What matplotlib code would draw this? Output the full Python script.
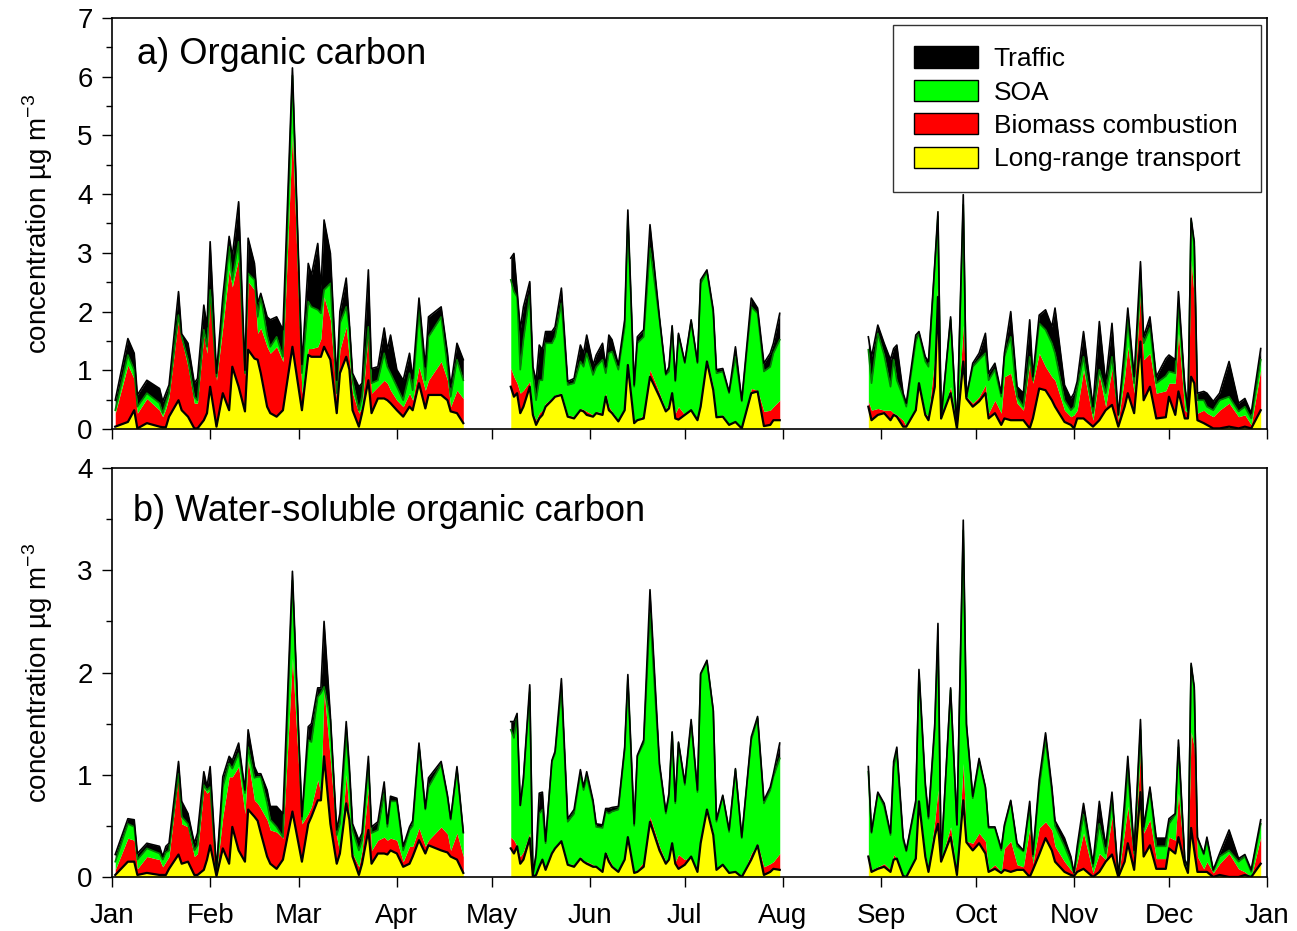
import numpy as np
import matplotlib
matplotlib.use('Agg')
import matplotlib.pyplot as plt
from matplotlib.patches import Patch
from matplotlib.ticker import MultipleLocator

plt.rcParams['font.family'] = ['Liberation Sans', 'DejaVu Sans']

# day of year of each sample (three sampling periods)
days = [1, 5, 7, 8, 11, 15, 16, 17, 18, 21, 22, 24, 26, 27, 29, 30, 31, 33, 35, 37, 38, 40, 42, 43, 45, 46, 47,
        49, 50, 52, 54, 57, 60, 62, 63, 65, 66, 67, 69, 71, 72, 74, 75, 76, 78, 79, 81, 82, 84, 86, 87, 88, 90,
        92, 94, 95, 97, 99, 100, 104, 106, 107, 109, 111,
        126, 127, 128, 129, 130, 132, 133, 134, 135, 136, 137, 139, 140, 142, 144, 146, 148, 149, 150, 152, 153,
        155, 156, 157, 158, 160, 162, 163, 165, 166, 168, 170, 173, 175, 176, 177, 178, 179, 181, 183, 185, 186,
        188, 190, 191, 193, 195, 197, 199, 202, 204, 206, 208, 209, 211,
        239, 240, 242, 244, 246, 247, 248, 250, 251, 254, 255, 257, 258, 260, 261, 262, 265, 267, 269, 270, 272,
        274, 276, 277, 279, 281, 282, 284, 286, 288, 290, 291, 293, 295, 297, 298, 301, 303, 304, 305, 307, 310,
        312, 314, 316, 318, 320, 321, 323, 325, 326, 328, 330, 333, 334, 336, 337, 339, 340, 341, 342, 343, 345,
        346, 348, 350, 353, 356, 358, 360, 363]

# a) organic carbon, stacked levels: LRT, +biomass, +SOA, +traffic (total)
oc_lrt = [.04, .12, .32, .01, .10, .04, .03, .03, .21, .49, .32, .21, .01, .01, .15, .27, .72, .04, .61, .32, 1.06,
          .72, .30, 1.35, 1.20, 1.18, .95, .38, .27, .21, .32, 1.40, .32, 1.26, 1.23, 1.23, 1.23, 1.40, 1.18, .27,
          .95, 1.23, 1.01, .32, .04, .27, .83, .27, .52, .52, .49, .44, .32, .21, .38, .32, .78, .35, .58, .58,
          .49, .30, .27, .10,
          .72, .55, .61, .27, .38, .72, .24, .07, .18, .24, .38, .49, .55, .58, .21, .18, .32, .30, .24, .21, .27,
          .24, .55, .32, .27, .13, .32, 1.09, .10, .15, .18, .89, .55, .30, .35, .61, .18, .16, .24, .32, .15, .38,
          1.15, .66, .20, .21, .07, .12, .01, .61, .64, .05, .07, .15, .15,
          .38, .15, .24, .27, .15, .24, .21, .04, .04, .32, .78, .24, .15, .72, 2.25, .18, .61, .01, 1.15, .52,
          .38, .47, .61, .18, .27, .07, .18, .15, .15, .15, .01, .18, .69, .66, .49, .38, .12, .07, .01, .18, .18,
          .04, .15, .32, .41, .04, .38, .61, .27, 1.49, .49, .72, .18, .20, .55, .24, .64, .18, .18, .89, .78,
          .15, .10, .07, .01, .01, .04, .01, .04, .01, .32]
oc_bb = [.27, 1.09, .85, .27, .52, .32, .21, .35, .55, 1.89, 1.52, 1.06, .44, .44, 1.60, 1.29, 2.31, .83, 1.74,
         2.71, 2.42, 2.91, .90, 2.51, 2.37, 1.63, 1.72, 1.40, 1.29, 1.40, 1.15, 5.05, .60, 1.37, 1.37, 1.40, 1.54,
         2.25, 1.86, .49, 1.35, 1.74, 1.18, .61, .27, .38, 1.66, .61, .72, .83, .78, .66, .49, .38, .61, .49, 1.06,
         .66, .83, 1.15, .83, .38, .66, .52,
         1.04, .89, .78, .61, .66, .81, .27, .15, .27, .32, .44, .52, .58, .61, .24, .21, .35, .33, .30, .24, .30,
         .27, .61, .38, .30, .15, .32, 1.09, .12, .15, .24, 1.01, .61, .32, .45, .61, .27, .38, .24, .32, .15, .38,
         1.18, .72, .21, .24, .07, .12, .01, .69, .66, .30, .32, .38, .49,
         .47, .32, .35, .32, .32, .27, .24, .15, .04, .35, .78, .27, .21, 1.23, 2.60, .18, .72, .01, 1.77, .55,
         .44, .55, .75, .27, .49, .27, .89, .95, .44, .32, 1.12, .78, 1.29, 1.06, .89, .83, .32, .21, .24, .32,
         1.01, .15, .92, .38, 1.03, .15, .89, 1.40, .61, 2.34, 1.18, 1.29, .61, .65, .78, .78, 1.63, .32, .27,
         2.88, 2.25, .27, .32, .27, .21, .32, .44, .21, .24, .07, 1.01]
oc_soa = [.32, 1.26, 1.00, .38, .61, .44, .27, .45, .61, 1.94, 1.57, 1.18, .55, .49, 1.69, 1.40, 2.37, .89, 1.97,
          3.11, 2.54, 3.19, .95, 2.65, 2.54, 1.91, 2.25, 1.60, 1.40, 1.57, 1.23, 6.02, .95, 2.17, 2.08, 2.03, 1.97,
          2.37, 2.48, .61, 1.80, 2.08, 1.74, .83, .32, .55, 1.74, .78, .83, 1.29, 1.06, .95, .72, .49, .95, .66,
          2.03, .83, 1.57, 1.91, 1.06, .55, 1.18, .83,
          2.54, 2.34, 2.25, 1.01, 1.52, 2.28, .95, .49, .83, .83, 1.46, 1.46, 1.57, 2.14, .75, .78, 1.15, 1.06,
          1.29, .92, 1.06, 1.18, .95, 1.29, 1.32, 1.01, 1.74, 3.62, .72, 1.46, 1.57, 3.08, 1.86, .92, .98, 1.74,
          .81, 1.60, 1.12, 1.83, 1.12, 2.48, 2.68, 1.97, .95, .98, .61, 1.23, .47, 2.08, 1.97, .98, 1.06, 1.29,
          1.52,
          1.35, .78, 1.63, 1.26, .72, 1.18, .83, .55, .38, 1.49, 1.63, 1.15, 1.06, 2.77, 3.62, .18, 1.86, .01,
          3.82, .55, 1.06, 1.18, 1.29, .83, 1.01, .55, 1.23, 1.57, .55, .38, 1.23, .83, 1.80, 1.69, 1.46, 1.29,
          .49, .32, .38, .69, 1.23, .27, 1.01, .61, 1.23, .24, 1.18, 1.86, .78, 2.54, 1.46, 1.72, .78, .90, .98,
          .95, 2.14, .69, .32, 3.56, 3.11, .49, .49, .38, .32, .49, .55, .30, .38, .18, 1.18]
oc_total = [.49, 1.54, 1.29, .58, .83, .69, .47, .61, .75, 2.34, 1.62, 1.46, .78, .86, 2.11, 1.74, 3.19, .95, 2.25,
            3.28, 2.94, 3.87, 1.00, 3.25, 2.82, 2.14, 2.31, 1.91, 1.86, 1.91, 1.69, 6.15, 1.10, 2.82, 2.62, 3.16,
            2.37, 3.56, 2.99, .83, 2.00, 2.57, 1.80, .95, .72, .78, 2.71, 1.03, 1.06, 1.72, 1.35, 1.60, 1.01, .83,
            1.29, .86, 2.23, 1.06, 1.91, 2.08, 1.29, .72, 1.46, 1.18,
            2.91, 2.99, 2.37, 1.69, 2.08, 2.51, 1.06, .81, 1.43, 1.35, 1.66, 1.66, 1.74, 2.40, .81, .86, 1.43, 1.29,
            1.60, 1.09, 1.26, 1.46, 1.06, 1.60, 1.52, 1.09, 1.86, 3.73, .75, 1.57, 1.69, 3.48, 1.90, .94, 1.06,
            1.76, .83, 1.63, 1.14, 1.86, 1.14, 2.54, 2.71, 2.03, 1.01, 1.03, .63, 1.40, .49, 2.23, 2.06, 1.12,
            1.29, 1.46, 1.97,
            1.57, 1.23, 1.77, 1.46, 1.18, 1.37, 1.43, .61, .44, 1.60, 1.66, 1.23, 1.15, 2.82, 3.70, .18, 1.91, .01,
            3.99, .55, 1.12, 1.29, 1.63, .95, 1.12, .61, 1.29, 2.00, .72, .61, 1.86, .89, 1.94, 2.03, 1.74, 2.06,
            .75, .52, .61, .81, 1.66, .38, 1.83, .78, 1.80, .24, 1.40, 2.06, .89, 2.85, 1.57, 1.91, .89, 1.20,
            1.26, 1.18, 2.34, .75, .32, 3.59, 3.19, .61, .64, .61, .47, .61, 1.15, .44, .52, .27, 1.37]

# b) water-soluble organic carbon, same stacking
wsoc_lrt = [.02, .15, .15, .02, .04, .02, .02, .02, .08, .22, .13, .15, .02, .02, .07, .17, .31, .01, .28, .13,
            .49, .26, .15, .66, .59, .55, .43, .20, .13, .08, .17, .64, .15, .52, .59, .75, .75, 1.18, .52, .13,
            .23, .72, .56, .20, .02, .13, .46, .13, .23, .23, .22, .26, .23, .10, .13, .20, .36, .23, .31, .26,
            .24, .20, .17, .04,
            .28, .23, .30, .13, .17, .38, .00, .02, .10, .17, .07, .23, .28, .35, .12, .10, .18, .15, .13, .10, .10,
            .05, .23, .15, .10, .05, .17, .39, .04, .05, .10, .54, .26, .13, .17, .33, .13, .08, .12, .20, .05, .33,
            .66, .41, .07, .12, .04, .05, .00, .17, .31, .02, .05, .08, .07,
            .20, .05, .08, .10, .05, .17, .18, .01, .00, .18, .74, .20, .05, .40, .52, .15, .39, .02, .75, .34, .26,
            .33, .23, .05, .08, .04, .07, .05, .07, .07, .00, .07, .22, .38, .26, .15, .05, .02, .01, .05, .08, .00,
            .05, .15, .22, .00, .15, .33, .07, .83, .20, .31, .08, .08, .28, .23, .39, .12, .04, .48, .26, .05, .05,
            .05, .00, .02, .00, .00, .02, .00, .13]
wsoc_bb = [.07, .38, .36, .08, .20, .17, .10, .15, .20, 1.00, .52, .49, .20, .23, .87, .82, .85, .04, .59, .98,
           .98, 1.08, .62, 1.14, .75, .72, .67, .56, .46, .44, .38, 2.14, .52, .62, .69, .95, .82, 1.83, 1.14, .39,
           .23, 1.00, .59, .23, .10, .26, .87, .26, .36, .39, .36, .38, .36, .15, .30, .30, .48, .30, .36, .49, .42,
           .26, .43, .20,
           .39, .36, .30, .20, .25, .43, .01, .02, .10, .18, .07, .26, .30, .36, .13, .12, .20, .15, .15, .12, .10,
           .07, .25, .18, .12, .05, .17, .39, .04, .07, .15, .59, .30, .15, .17, .33, .15, .22, .17, .20, .05, .33,
           .67, .43, .08, .12, .04, .05, .00, .23, .33, .10, .13, .15, .23,
           .23, .07, .10, .13, .07, .22, .18, .02, .00, .20, .75, .22, .08, .55, .85, .17, .49, .02, 1.11, .35,
           .33, .43, .35, .07, .12, .05, .28, .35, .12, .10, .48, .13, .48, .54, .46, .30, .15, .07, .03, .15, .43,
           .04, .23, .17, .59, .00, .45, .69, .17, 1.24, .43, .56, .18, .18, .39, .36, .82, .12, .08, 1.42, 1.27,
           .20, .08, .15, .04, .13, .23, .08, .05, .00, .39]
wsoc_soa = [.15, .52, .49, .17, .28, .23, .17, .24, .26, 1.01, .59, .52, .26, .31, .90, .85, .88, .05, .88, 1.11,
            1.06, 1.21, .82, 1.27, .97, .98, .98, .72, .56, .49, .39, 2.90, .56, 1.34, 1.32, 1.76, 1.80, 1.86, 1.54,
            .41, .52, 1.39, 1.01, .46, .26, .36, 1.11, .43, .46, .82, .49, .74, .74, .26, .46, .50, 1.27, .66, .88,
            1.10, .78, .56, 1.05, .43,
            1.44, 1.36, 1.57, .70, .95, 1.81, .02, .20, .62, .66, .33, 1.13, 1.21, 1.83, .54, .62, 1.01, .85, .98,
            .72, .49, .48, .64, .62, .64, .66, 1.24, 1.93, .50, 1.18, 1.31, 2.58, 1.08, .62, .79, 1.41, .72, 1.31,
            .90, 1.50, .83, 1.98, 2.11, 1.62, .54, .79, .44, 1.05, .38, 1.34, 1.55, .72, .85, .98, 1.16,
            1.03, .43, .82, .69, .41, 1.08, 1.21, .36, .25, .72, 1.99, .88, .57, 1.45, 2.35, .17, 1.83, .51, 3.39,
            1.47, .77, 1.13, .87, .48, .48, .26, .49, .74, .30, .25, .69, .20, .88, 1.34, .83, .50, .30, .15, .04,
            .25, .61, .10, .52, .23, .75, .00, .65, 1.05, .23, 1.44, .46, .85, .30, .30, .52, .61, 1.27, .17, .10,
            2.07, 1.83, .38, .22, .36, .06, .20, .26, .15, .20, .05, .52]
wsoc_total = [.22, .57, .56, .23, .33, .30, .20, .30, .33, 1.13, .74, .62, .33, .43, 1.03, .88, 1.08, .07, .98,
              1.18, 1.14, 1.31, .85, 1.44, 1.08, 1.01, 1.01, .85, .69, .69, .62, 2.99, .59, 1.47, 1.50, 1.85, 1.85,
              2.50, 1.57, .46, .62, 1.52, 1.08, .52, .36, .43, 1.18, .49, .54, .93, .52, .79, .77, .30, .49, .55,
              1.31, .67, .97, 1.13, .80, .57, 1.08, .44,
              1.52, 1.52, 1.60, .70, .97, 1.88, .02, .23, .82, .83, .35, 1.14, 1.23, 1.94, .57, .66, 1.05, .88, 1.03,
              .75, .52, .51, .67, .67, .68, .69, 1.27, 1.98, .52, 1.19, 1.34, 2.81, 1.11, .64, .82, 1.42, .74, 1.32,
              .92, 1.54, .85, 1.99, 2.12, 1.63, .56, .80, .46, 1.06, .39, 1.37, 1.57, .75, .88, 1.01, 1.31,
              1.08, .44, .83, .72, .43, 1.13, 1.27, .39, .26, .75, 2.03, .92, .59, 1.50, 2.48, .17, 1.85, .51, 3.49,
              1.50, .79, 1.16, .88, .49, .49, .28, .51, .75, .33, .26, .74, .22, .95, 1.41, .88, .55, .38, .20, .04,
              .30, .72, .13, .74, .30, .83, .00, .75, 1.18, .26, 1.54, .49, .88, .38, .38, .57, .62, 1.34, .17, .10,
              2.09, 1.86, .39, .23, .39, .07, .23, .46, .18, .22, .07, .56]

month_pos = [0, 31, 59, 90, 120, 151, 181, 212, 243, 273, 304, 334, 365]
month_lbl = ['Jan', 'Feb', 'Mar', 'Apr', 'May', 'Jun', 'Jul', 'Aug', 'Sep', 'Oct', 'Nov', 'Dec', 'Jan']

c_lrt = '#ffff00'
c_bb = '#ff0000'
c_soa = '#00ff00'
c_traf = '#000000'


def draw_panel(ax, lrt, bb, soa, tot):
    d = np.array(days, dtype=float)
    lev = [np.array(v, dtype=float) for v in (lrt, bb, soa, tot)]
    # split into sampling periods at the long gaps
    cuts = np.where(np.diff(d) > 10)[0] + 1
    for idx in np.split(np.arange(len(d)), cuts):
        x = d[idx]
        y0, y1, y2, y3 = [v[idx] for v in lev]
        ax.fill_between(x, 0, y0, color=c_lrt, lw=0)
        ax.fill_between(x, y0, y1, color=c_bb, lw=0)
        ax.fill_between(x, y1, y2, color=c_soa, lw=0)
        ax.fill_between(x, y2, y3, color=c_traf, lw=0)
        ax.plot(x, y2, color='#008000', lw=1.2)
        ax.plot(x, y3, color='black', lw=1.2)
        ax.plot(x, y0, color='black', lw=1.6)
    ax.set_xlim(0, 365)
    ax.set_xticks(month_pos)
    ax.yaxis.set_minor_locator(MultipleLocator(0.5))
    ax.tick_params(axis='both', which='major', direction='out', length=7, width=1, labelsize=20)
    ax.tick_params(axis='x', which='major', pad=12)
    ax.tick_params(axis='y', which='major', pad=7)
    ax.tick_params(axis='y', which='minor', direction='out', length=4, width=1)
    ax.set_ylabel(r'concentration µg m$^{\mathregular{-3}}$', fontsize=20, labelpad=16)
    for sp in ax.spines.values():
        sp.set_linewidth(1.2)


fig = plt.figure(figsize=(12.97, 9.31), dpi=100)
ax1 = fig.add_axes([0.0864, 0.5392, 0.8905, 0.4415])
ax2 = fig.add_axes([0.0864, 0.0580, 0.8905, 0.4393])

draw_panel(ax1, oc_lrt, oc_bb, oc_soa, oc_total)
ax1.set_ylim(0, 7)
ax1.set_xticklabels([])
ax1.text(0.022, 0.91, 'a) Organic carbon', transform=ax1.transAxes, fontsize=26, va='center')

draw_panel(ax2, wsoc_lrt, wsoc_bb, wsoc_soa, wsoc_total)
ax2.set_ylim(0, 4)
ax2.set_yticks([0, 1, 2, 3, 4])
ax2.set_xticklabels(month_lbl)
ax2.text(0.018, 0.893, 'b) Water-soluble organic carbon', transform=ax2.transAxes, fontsize=26, va='center')

handles = [Patch(facecolor=c_traf, edgecolor='black'),
           Patch(facecolor=c_soa, edgecolor='black'),
           Patch(facecolor=c_bb, edgecolor='black'),
           Patch(facecolor=c_lrt, edgecolor='black')]
labels = ['Traffic', 'SOA', 'Biomass combustion', 'Long-range transport']
leg = ax1.legend(handles, labels, loc='upper right', bbox_to_anchor=(0.995, 0.982), borderaxespad=0,
                 fontsize=19, frameon=True, fancybox=False, handlelength=2.4, handleheight=0.85,
                 labelspacing=0.33, handletextpad=0.6, borderpad=0.8)
leg.get_frame().set_edgecolor('black')
leg.get_frame().set_linewidth(1.0)

fig.savefig('out.png', dpi=100)
